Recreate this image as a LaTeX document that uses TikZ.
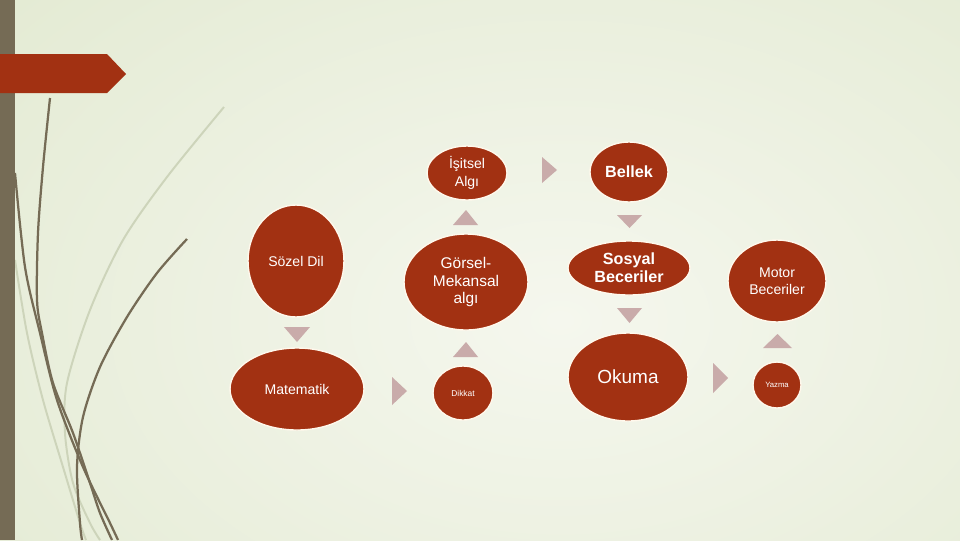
\documentclass[tikz,border=0pt]{standalone}
\usepackage{fontspec}
\setmainfont{Liberation Sans}
\usetikzlibrary{shapes.geometric}
\definecolor{rust}{HTML}{A23112}
\definecolor{olive}{HTML}{756B55}
\definecolor{mauve}{HTML}{C9ABAA}
\definecolor{pale}{HTML}{F5F7EE}
\definecolor{sage}{HTML}{D9E3C3}
\definecolor{reed}{HTML}{CDD4BA}
\definecolor{rim}{HTML}{FFF8EC}
\tikzstyle{elp}=[fill=rust, draw=rim, line width=1pt, shape=ellipse, inner sep=0pt, text=white, align=center]
\tikzstyle{tri}=[fill=mauve]
\tikzstyle{stalk}=[draw=olive, line width=1.6pt]
\tikzstyle{faint}=[draw=reed, line width=1.4pt]
\begin{document}
\begin{tikzpicture}
		\clip (0,0) rectangle (24,-13.5);
		\useasboundingbox (0,0) rectangle (24,-13.5);
		\shade [inner color=pale, outer color=sage] (-16,12) rectangle (44,-28);

		% grass strokes
		\draw [style=faint] plot [smooth] coordinates {(5.6,-2.675) (4.175,-4.425) (3.075,-6.0) (2.25,-7.75) (1.675,-9.575) (1.625,-10.825) (1.825,-12.075) (2.25,-13.075) (2.5,-13.5)};
		\draw [style=faint] plot [smooth] coordinates {(0.375,-6.5) (0.675,-8.325) (1.075,-10.0) (1.575,-11.675) (2.0,-13.075) (2.15,-13.5)};
		\draw [style=stalk] plot [smooth] coordinates {(1.25,-2.45) (1.075,-4.175) (0.95,-5.825) (0.925,-7.5) (1.05,-8.325) (1.325,-9.575) (1.825,-10.825) (2.25,-12.075) (2.5,-12.825) (2.8,-13.5)};
		\draw [style=stalk] plot [smooth] coordinates {(0.375,-4.325) (0.625,-6.675) (1.0,-8.325) (1.425,-10.0) (2.075,-11.675) (2.75,-13.075) (2.95,-13.5)};
		\draw [style=stalk] plot [smooth] coordinates {(4.675,-5.975) (3.925,-6.825) (3.175,-7.925) (2.5,-9.175) (2.075,-10.425) (1.925,-11.675) (2.0,-13.075) (2.05,-13.5)};

		\fill [olive] (0,0) rectangle (0.375,-13.5);
		\fill [rust] (0,-1.35) -- (2.675,-1.35) -- (3.15,-1.85) -- (2.675,-2.325) -- (0,-2.325) -- cycle;

		\node [style=elp, minimum width=2.4cm, minimum height=2.8cm, font=\fontsize{10}{12}\selectfont] (1) at (7.4, -6.525) {Sözel Dil};
		\node [style=elp, minimum width=3.35cm, minimum height=2.05cm, font=\fontsize{10}{12}\selectfont] (2) at (7.425, -9.725) {Matematik};
		\node [style=elp, minimum width=2cm, minimum height=1.35cm, font=\fontsize{10}{12.5}\selectfont] (3) at (11.675, -4.325) {İşitsel\\Algı};
		\node [style=elp, minimum width=3.1cm, minimum height=2.4cm, font=\fontsize{11}{12.5}\selectfont] (4) at (11.65, -7.05) {Görsel-\\Mekansal\\algı};
		\node [style=elp, minimum width=1.5cm, minimum height=1.35cm, font=\fontsize{6}{7}\selectfont] (5) at (11.575, -9.825) {Dikkat};
		\node [style=elp, minimum width=1.95cm, minimum height=1.5cm, font=\fontsize{11.5}{13}\bfseries] (6) at (15.725, -4.3) {Bellek};
		\node [style=elp, minimum width=3.05cm, minimum height=1.35cm, font=\fontsize{11.5}{12.8}\bfseries] (7) at (15.725, -6.7) {Sosyal\\Beceriler};
		\node [style=elp, minimum width=3cm, minimum height=2.2cm, font=\fontsize{13.5}{15}\selectfont] (8) at (15.7, -9.425) {Okuma};
		\node [style=elp, minimum width=2.45cm, minimum height=2.05cm, font=\fontsize{10}{12}\selectfont] (9) at (19.425, -7.025) {Motor\\Beceriler};
		\node [style=elp, minimum width=1.2cm, minimum height=1.15cm, font=\fontsize{5.5}{6}\selectfont] (10) at (19.425, -9.625) {Yazma};

		\fill [style=tri] (7.1,-8.175) -- (7.75,-8.175) -- (7.425,-8.55) -- cycle;
		\fill [style=tri] (9.8,-9.425) -- (9.8,-10.125) -- (10.175,-9.775) -- cycle;
		\fill [style=tri] (11.325,-8.925) -- (11.95,-8.925) -- (11.65,-8.55) -- cycle;
		\fill [style=tri] (11.325,-5.625) -- (11.95,-5.625) -- (11.65,-5.25) -- cycle;
		\fill [style=tri] (13.55,-3.925) -- (13.55,-4.575) -- (13.925,-4.25) -- cycle;
		\fill [style=tri] (15.425,-5.375) -- (16.05,-5.375) -- (15.7375,-5.7) -- cycle;
		\fill [style=tri] (15.425,-7.7) -- (16.05,-7.7) -- (15.7375,-8.075) -- cycle;
		\fill [style=tri] (17.825,-9.075) -- (17.825,-9.825) -- (18.2,-9.45) -- cycle;
		\fill [style=tri] (19.075,-8.7) -- (19.8,-8.7) -- (19.4375,-8.35) -- cycle;
	\end{tikzpicture}
\end{document}
